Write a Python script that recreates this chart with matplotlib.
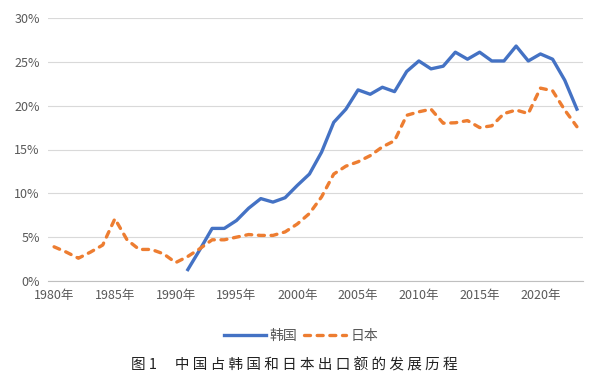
import matplotlib.pyplot as plt
import numpy as np

plt.rcParams['font.family'] = ['Noto Sans CJK SC', 'DejaVu Sans']

years_jp = list(range(1980, 2024))
japan = [3.9, 3.3, 2.6, 3.3, 4.1, 7.1, 4.7, 3.6, 3.6, 3.1,
         2.1, 2.8, 3.7, 4.7, 4.7, 5.0, 5.3, 5.2, 5.2, 5.6,
         6.5, 7.7, 9.6, 12.2, 13.1, 13.6, 14.3, 15.3, 16.0, 18.9,
         19.3, 19.6, 18.0, 18.05, 18.3, 17.5, 17.7, 19.1, 19.5, 19.1,
         22.0, 21.7, 19.5, 17.6]
years_kr = list(range(1991, 2024))
korea = [1.3, 3.6, 6.0, 6.0, 6.9, 8.3, 9.4, 9.0, 9.5,
         10.9, 12.2, 14.7, 18.1, 19.6, 21.8, 21.3, 22.1, 21.6, 23.9,
         25.1, 24.2, 24.5, 26.1, 25.3, 26.1, 25.1, 25.1, 26.8, 25.1,
         25.9, 25.3, 22.9, 19.6]
tick_years = list(range(1980, 2021, 5))
tick_labels = [f"{y}年" for y in tick_years]
caption = "图 1　中国占韩国和日本出口额的发展历程"

fig = plt.figure(figsize=(6.06, 3.78), dpi=100)
ax = fig.add_axes([48/606, 1-281/378, (583-48)/606, (281-18)/378])

ax.plot(years_kr, np.array(korea)/100, color='#4472C4', lw=2.4,
        solid_joinstyle='round', label='韩国')
ax.plot(years_jp, np.array(japan)/100, color='#ED7D31', lw=2.4,
        linestyle=(0, (1.8, 2.0)), dash_capstyle='round', label='日本')

ax.set_xlim(1979.5, 2023.5)
ax.set_ylim(0, 0.30)
ax.set_yticks(np.arange(0, 0.31, 0.05))
ax.set_yticklabels([f"{int(round(v*100))}%" for v in np.arange(0, 0.31, 0.05)])
ax.set_xticks(tick_years)
ax.set_xticklabels(tick_labels)
ax.tick_params(length=0, labelsize=9, labelcolor='#595959', pad=6)
ax.grid(axis='y', color='#d9d9d9', lw=0.8)
ax.set_axisbelow(True)
for s in ['top', 'right', 'left']:
    ax.spines[s].set_visible(False)
ax.spines['bottom'].set_color('#bfbfbf')

fig.legend(loc='center', bbox_to_anchor=(301/606, 1-336/378), ncol=2,
           frameon=False, fontsize=10, labelcolor='#595959',
           handlelength=3.0, columnspacing=0.5, handletextpad=0.3)
# spaced-out caption like the original figure title
fig.text(294/606, 1-365/378, " ".join(caption).replace("   ", " ").replace("　 ", "　"),
         ha='center', va='center', fontsize=10.5, color='#222222')

fig.savefig('out.png', dpi=100)
